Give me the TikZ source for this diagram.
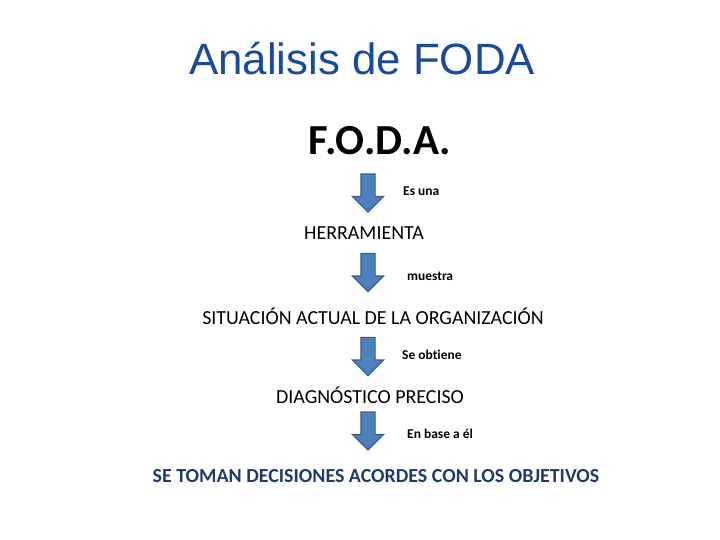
\documentclass[tikz,border=0pt]{standalone}
\usepackage{fontspec}
\setmainfont{Carlito}[Ligatures=NoCommon]
\newfontfamily\titlefont{Liberation Sans}
\usetikzlibrary{shapes.arrows}
\definecolor{TitleClr}{HTML}{1A4A9C}
\definecolor{ArrowClr}{HTML}{4F81BD}
\definecolor{ArrowLine}{HTML}{385D8A}
\definecolor{GoalClr}{HTML}{1F3A6B}

\begin{document}
\begin{tikzpicture}[x=1bp,y=-1bp]
\tikzset{
  downarrow/.style={single arrow,rotate=-90,fill=ArrowClr,draw=ArrowLine,
    line width=1.2pt,minimum height=38bp,inner xsep=0pt,inner ysep=6.5bp,
    single arrow head extend=8.5bp,single arrow tip angle=90},
  steptext/.style={anchor=base,inner sep=0pt,font=\fontsize{20}{22}\selectfont},
  verbtext/.style={anchor=base west,inner sep=0pt,font=\fontsize{13.5}{15}\selectfont\bfseries}
}
\useasboundingbox (0,0) rectangle (720,540);

% titulo
\node[anchor=base,inner sep=0pt,text=TitleClr,font=\titlefont\fontsize{44}{48}\selectfont]
  (title) at (362,75) {Análisis de FODA};
\node[anchor=base,inner sep=0pt,font=\fontsize{43}{46}\selectfont\bfseries] (foda) at (380,155) {F.O.D.A.};

% pasos
\node[steptext] (herr) at (364,240) {HERRAMIENTA};
\node[steptext] (sit) at (373,324) {SITUACIÓN ACTUAL DE LA ORGANIZACIÓN};
\node[steptext] (diag) at (370,403) {DIAGNÓSTICO PRECISO};
\node[steptext,text=GoalClr,font=\fontsize{20}{22}\selectfont\bfseries] (dec) at (376,482)
  {SE TOMAN DECISIONES ACORDES CON LOS OBJETIVOS};

% flechas
\node[downarrow] (a1) at (368,189.5) {};
\node[downarrow] (a2) at (368,269) {};
\node[downarrow] (a3) at (368,353) {};
\node[downarrow] (a4) at (368,427.5) {};

\node[verbtext] (l1) at (403,196) {Es una};
\node[verbtext] (l2) at (407,281) {muestra};
\node[verbtext] (l3) at (402,359) {Se obtiene};
\node[verbtext] (l4) at (407,438) {En base a él};

\end{tikzpicture}
\end{document}
